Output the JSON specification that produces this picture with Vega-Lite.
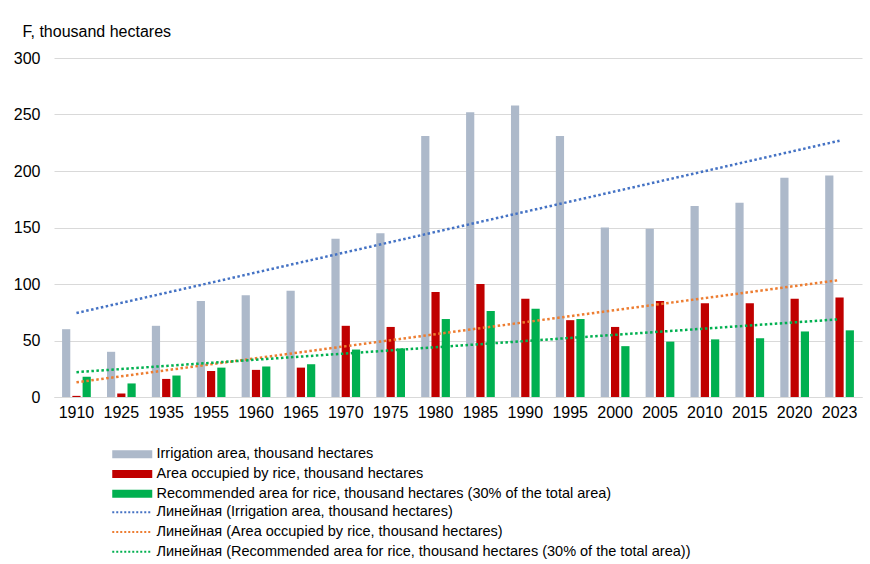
{
  "$schema": "https://vega.github.io/schema/vega-lite/v6.json",
  "width": 808,
  "height": 339,
  "autosize": {"type": "none"},
  "padding": {"left": 54, "top": 58, "right": 8, "bottom": 167},
  "background": "white",
  "config": {
    "view": {"stroke": null},
    "font": "Liberation Sans",
    "axis": {"labelFont": "Liberation Sans", "labelFontSize": 16, "labelColor": "#000000", "titleFont": "Liberation Sans", "titleFontSize": 16, "titleFontWeight": "normal", "titleColor": "#000000"}
  },
  "datasets": {
    "bars": [
      {"year": "1910", "series": "Irrigation area, thousand hectares", "value": 60},
      {"year": "1925", "series": "Irrigation area, thousand hectares", "value": 40},
      {"year": "1935", "series": "Irrigation area, thousand hectares", "value": 63},
      {"year": "1955", "series": "Irrigation area, thousand hectares", "value": 85},
      {"year": "1960", "series": "Irrigation area, thousand hectares", "value": 90},
      {"year": "1965", "series": "Irrigation area, thousand hectares", "value": 94},
      {"year": "1970", "series": "Irrigation area, thousand hectares", "value": 140},
      {"year": "1975", "series": "Irrigation area, thousand hectares", "value": 145},
      {"year": "1980", "series": "Irrigation area, thousand hectares", "value": 231},
      {"year": "1985", "series": "Irrigation area, thousand hectares", "value": 252},
      {"year": "1990", "series": "Irrigation area, thousand hectares", "value": 258},
      {"year": "1995", "series": "Irrigation area, thousand hectares", "value": 231},
      {"year": "2000", "series": "Irrigation area, thousand hectares", "value": 150},
      {"year": "2005", "series": "Irrigation area, thousand hectares", "value": 149},
      {"year": "2010", "series": "Irrigation area, thousand hectares", "value": 169},
      {"year": "2015", "series": "Irrigation area, thousand hectares", "value": 172},
      {"year": "2020", "series": "Irrigation area, thousand hectares", "value": 194},
      {"year": "2023", "series": "Irrigation area, thousand hectares", "value": 196},
      {"year": "1910", "series": "Area occupied by rice, thousand hectares", "value": 1},
      {"year": "1925", "series": "Area occupied by rice, thousand hectares", "value": 3},
      {"year": "1935", "series": "Area occupied by rice, thousand hectares", "value": 16},
      {"year": "1955", "series": "Area occupied by rice, thousand hectares", "value": 23},
      {"year": "1960", "series": "Area occupied by rice, thousand hectares", "value": 24},
      {"year": "1965", "series": "Area occupied by rice, thousand hectares", "value": 26},
      {"year": "1970", "series": "Area occupied by rice, thousand hectares", "value": 63},
      {"year": "1975", "series": "Area occupied by rice, thousand hectares", "value": 62},
      {"year": "1980", "series": "Area occupied by rice, thousand hectares", "value": 93},
      {"year": "1985", "series": "Area occupied by rice, thousand hectares", "value": 100},
      {"year": "1990", "series": "Area occupied by rice, thousand hectares", "value": 87},
      {"year": "1995", "series": "Area occupied by rice, thousand hectares", "value": 68},
      {"year": "2000", "series": "Area occupied by rice, thousand hectares", "value": 62},
      {"year": "2005", "series": "Area occupied by rice, thousand hectares", "value": 85},
      {"year": "2010", "series": "Area occupied by rice, thousand hectares", "value": 83},
      {"year": "2015", "series": "Area occupied by rice, thousand hectares", "value": 83},
      {"year": "2020", "series": "Area occupied by rice, thousand hectares", "value": 87},
      {"year": "2023", "series": "Area occupied by rice, thousand hectares", "value": 88},
      {"year": "1910", "series": "Recommended area for rice, thousand hectares (30% of the total area)", "value": 18},
      {"year": "1925", "series": "Recommended area for rice, thousand hectares (30% of the total area)", "value": 12},
      {"year": "1935", "series": "Recommended area for rice, thousand hectares (30% of the total area)", "value": 19},
      {"year": "1955", "series": "Recommended area for rice, thousand hectares (30% of the total area)", "value": 26},
      {"year": "1960", "series": "Recommended area for rice, thousand hectares (30% of the total area)", "value": 27},
      {"year": "1965", "series": "Recommended area for rice, thousand hectares (30% of the total area)", "value": 29},
      {"year": "1970", "series": "Recommended area for rice, thousand hectares (30% of the total area)", "value": 42},
      {"year": "1975", "series": "Recommended area for rice, thousand hectares (30% of the total area)", "value": 43},
      {"year": "1980", "series": "Recommended area for rice, thousand hectares (30% of the total area)", "value": 69},
      {"year": "1985", "series": "Recommended area for rice, thousand hectares (30% of the total area)", "value": 76},
      {"year": "1990", "series": "Recommended area for rice, thousand hectares (30% of the total area)", "value": 78},
      {"year": "1995", "series": "Recommended area for rice, thousand hectares (30% of the total area)", "value": 69},
      {"year": "2000", "series": "Recommended area for rice, thousand hectares (30% of the total area)", "value": 45},
      {"year": "2005", "series": "Recommended area for rice, thousand hectares (30% of the total area)", "value": 49},
      {"year": "2010", "series": "Recommended area for rice, thousand hectares (30% of the total area)", "value": 51},
      {"year": "2015", "series": "Recommended area for rice, thousand hectares (30% of the total area)", "value": 52},
      {"year": "2020", "series": "Recommended area for rice, thousand hectares (30% of the total area)", "value": 58},
      {"year": "2023", "series": "Recommended area for rice, thousand hectares (30% of the total area)", "value": 59}
    ],
    "trends": [
      {"year": "1910", "trend": "Линейная (Irrigation area, thousand hectares)", "value": 74.3},
      {"year": "2023", "trend": "Линейная (Irrigation area, thousand hectares)", "value": 226.8},
      {"year": "1910", "trend": "Линейная (Area occupied by rice, thousand hectares)", "value": 13},
      {"year": "2023", "trend": "Линейная (Area occupied by rice, thousand hectares)", "value": 103.5},
      {"year": "1910", "trend": "Линейная (Recommended area for rice, thousand hectares (30% of the total area))", "value": 22},
      {"year": "2023", "trend": "Линейная (Recommended area for rice, thousand hectares (30% of the total area))", "value": 68.8}
    ]
  },
  "encoding": {
    "x": {
      "field": "year", "type": "nominal", "sort": null,
      "scale": {"paddingInner": 0.36, "paddingOuter": 0.18},
      "axis": {"title": null, "labelAngle": 0, "ticks": false, "domainColor": "#d9d9d9", "labelPadding": 7, "grid": false}
    },
    "y": {
      "field": "value", "type": "quantitative",
      "scale": {"domain": [0, 300], "nice": false},
      "axis": {"title": "F, thousand hectares", "titleAngle": 0, "titleAlign": "left", "titleBaseline": "alphabetic", "titleX": -32, "titleY": -22, "values": [0, 50, 100, 150, 200, 250, 300], "domain": false, "ticks": false, "gridColor": "#d9d9d9", "labelPadding": 14}
    }
  },
  "layer": [
    {
      "data": {"name": "bars"},
      "mark": {"type": "bar"},
      "encoding": {
        "xOffset": {"field": "series", "type": "nominal", "sort": null, "scale": {"paddingInner": 0.2}},
        "fill": {
          "field": "series", "type": "nominal", "sort": null,
          "scale": {
            "domain": ["Irrigation area, thousand hectares", "Area occupied by rice, thousand hectares", "Recommended area for rice, thousand hectares (30% of the total area)"],
            "range": ["#adb9ca", "#c00000", "#00b050"]
          },
          "legend": {
            "title": null, "orient": "none", "legendX": 55, "legendY": 389, "padding": 0,
            "symbolType": "M-1,-1H9V1H-1Z", "symbolSize": 64, "symbolStrokeWidth": 0,
            "labelFont": "Liberation Sans", "labelFontSize": 14.5, "labelColor": "#000000",
            "labelLimit": 700, "rowPadding": 4.7, "labelOffset": 33
          }
        }
      }
    },
    {
      "data": {"name": "trends"},
      "mark": {"type": "line", "strokeWidth": 2.5, "strokeDash": [2.5, 2.5], "strokeCap": "butt"},
      "encoding": {
        "stroke": {
          "field": "trend", "type": "nominal", "sort": null,
          "scale": {
            "domain": ["Линейная (Irrigation area, thousand hectares)", "Линейная (Area occupied by rice, thousand hectares)", "Линейная (Recommended area for rice, thousand hectares (30% of the total area))"],
            "range": ["#4472c4", "#ed7d31", "#00b050"]
          },
          "legend": {
            "title": null, "orient": "none", "legendX": 55, "legendY": 447, "padding": 0,
            "symbolType": "M-1,0H9", "symbolSize": 64, "symbolStrokeWidth": 2, "symbolDash": [2, 2], "symbolFillColor": "transparent",
            "labelFont": "Liberation Sans", "labelFontSize": 14.5, "labelColor": "#000000",
            "labelLimit": 700, "rowPadding": 4.7, "labelOffset": 33
          }
        }
      }
    }
  ]
}
